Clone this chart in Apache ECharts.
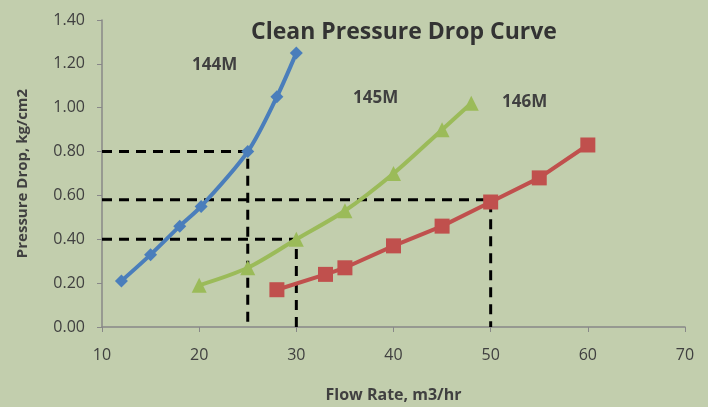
<!DOCTYPE html>
<html>
<head>
<meta charset="utf-8">
<script src="https://cdn.jsdelivr.net/npm/echarts@6/dist/echarts.min.js"></script>
<style>
  html, body { margin: 0; padding: 0; background: #c2cead; }
  #main { width: 708px; height: 407px; }
</style>
</head>
<body>
<div id="main"></div>
<script>
// flow rate (m3/hr) vs pressure drop (kg/cm2)
var flow144 = [12, 15, 18, 20.2, 25, 28, 30];
var drop144 = [0.21, 0.33, 0.46, 0.55, 0.80, 1.05, 1.25];

var flow145 = [20, 25, 30, 35, 40, 45, 48];
var drop145 = [0.19, 0.27, 0.40, 0.53, 0.70, 0.90, 1.02];

var flow146 = [28, 33, 35, 40, 45, 50, 55, 60];
var drop146 = [0.17, 0.24, 0.27, 0.37, 0.46, 0.57, 0.68, 0.83];

// dashed reading lines
var guide144 = [[10, 0.80], [25, 0.80], [25, 0]];
var guide145 = [[10, 0.40], [30, 0.40], [30, 0]];
var guide146 = [[10, 0.58], [50, 0.58], [50, 0]];

var seriesNames = ['144M', '145M', '146M'];

function zip(xs, ys) {
    return xs.map(function (x, i) { return [x, ys[i]]; });
}

var chart = echarts.init(document.getElementById('main'));
var font = '"Open Sans", sans-serif';
var axisGray = '#888888';
var textGray = '#404040';

function guide(data) {
    return {
        type: 'line',
        data: data,
        symbol: 'none',
        silent: true,
        z: 1,
        lineStyle: { color: '#000', width: 3, type: [10, 7] }
    };
}

var option = {
    backgroundColor: '#c2cead',
    animation: false,
    title: {
        text: 'Clean Pressure Drop Curve',
        left: 399,
        top: 16,
        textAlign: 'center',
        textStyle: { fontFamily: font, fontSize: 23, fontWeight: 'bold', color: '#333' }
    },
    grid: { left: 102, right: 23, top: 20, bottom: 80, outerBoundsMode: 'none' },
    xAxis: {
        type: 'value',
        min: 10, max: 70, interval: 10,
        name: 'Flow Rate, m3/hr',
        nameLocation: 'middle',
        nameGap: 60,
        nameTextStyle: { fontFamily: font, fontSize: 16, fontWeight: 'bold', color: textGray },
        splitLine: { show: false },
        axisLine: { lineStyle: { color: axisGray, width: 1.5 } },
        axisTick: { length: 5, lineStyle: { color: axisGray } },
        axisLabel: { fontFamily: font, fontSize: 16, color: textGray, margin: 20 }
    },
    yAxis: {
        type: 'value',
        min: 0, max: 1.4, interval: 0.2,
        name: 'Pressure Drop, kg/cm2',
        nameLocation: 'middle',
        nameGap: 72,
        nameTextStyle: { fontFamily: font, fontSize: 15, fontWeight: 'bold', color: textGray },
        splitLine: { show: false },
        axisLine: { show: true, lineStyle: { color: axisGray, width: 1.5 } },
        axisTick: { show: true, length: 5, lineStyle: { color: axisGray } },
        axisLabel: {
            fontFamily: font, fontSize: 16, color: textGray, margin: 17,
            formatter: function (v) { return v.toFixed(2); }
        }
    },
    graphic: [
        { type: 'text', left: 192, top: 57, style: { text: seriesNames[0], font: 'bold 17px ' + font, fill: textGray } },
        { type: 'text', left: 353, top: 90, style: { text: seriesNames[1], font: 'bold 17px ' + font, fill: textGray } },
        { type: 'text', left: 502, top: 94, style: { text: seriesNames[2], font: 'bold 17px ' + font, fill: textGray } }
    ],
    series: [
        guide(guide144),
        guide(guide145),
        guide(guide146),
        {
            name: seriesNames[0],
            type: 'line',
            data: zip(flow144, drop144),
            smooth: 0.3,
            symbol: 'diamond',
            symbolSize: 13,
            z: 3,
            itemStyle: { color: '#4a7ebb' },
            lineStyle: { color: '#4a7ebb', width: 4 }
        },
        {
            name: seriesNames[1],
            type: 'line',
            data: zip(flow145, drop145),
            smooth: 0.3,
            symbol: 'triangle',
            symbolSize: 15,
            z: 3,
            itemStyle: { color: '#9bbb59' },
            lineStyle: { color: '#9bbb59', width: 4 }
        },
        {
            name: seriesNames[2],
            type: 'line',
            data: zip(flow146, drop146),
            symbol: 'rect',
            symbolSize: 15,
            z: 3,
            itemStyle: { color: '#c0504d' },
            lineStyle: { color: '#c0504d', width: 4 }
        }
    ]
};
chart.setOption(option);
</script>
</body>
</html>
